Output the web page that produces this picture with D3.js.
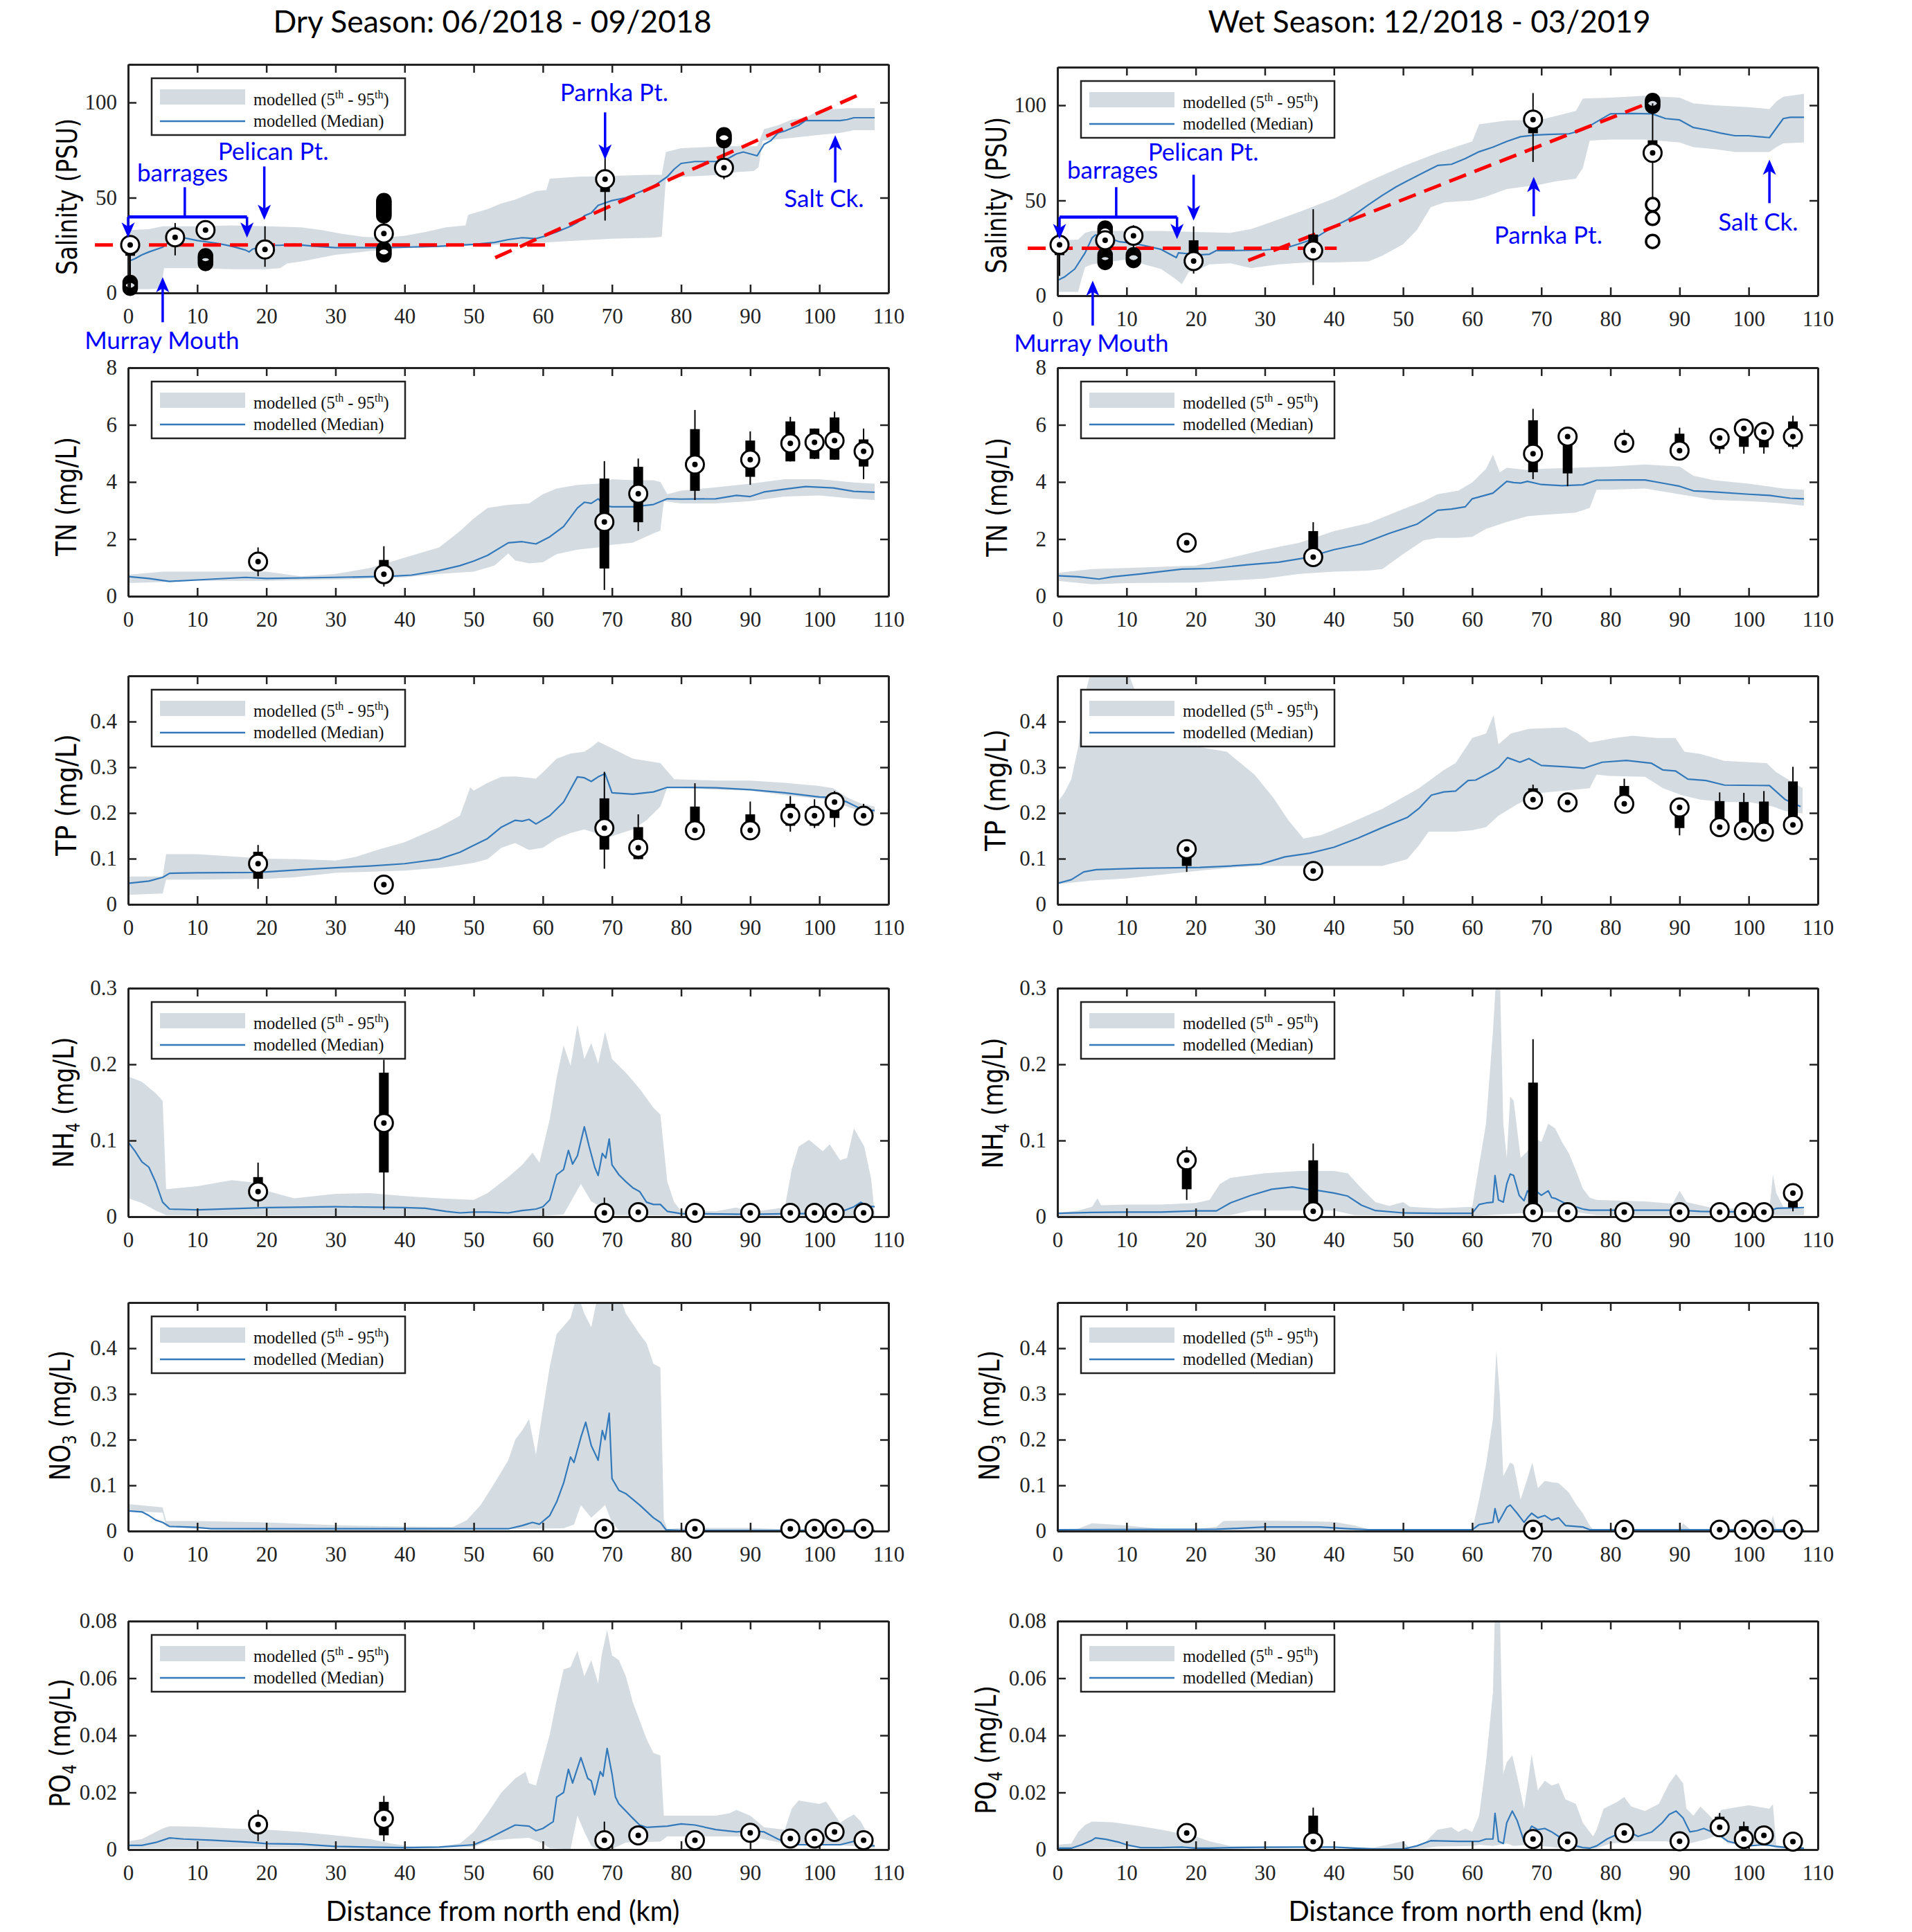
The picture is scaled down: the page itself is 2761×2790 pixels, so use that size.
<!DOCTYPE html>
<html><head><meta charset="utf-8">
<script src="https://cdn.jsdelivr.net/npm/d3@7"></script>
<style>body{margin:0;background:#fff}</style>
</head><body>
<svg id="fig" width="2761" height="2790"></svg>
<script>
// ---------------- DATA ----------------
const xTicks = [0,10,20,30,40,50,60,70,80,90,100,110];
const seasonTitles = ['Dry Season: 06/2018 - 09/2018', 'Wet Season: 12/2018 - 03/2019'];
const xLabel = 'Distance from north end (km)';
const legendLabels = ['modelled (5', 'th', ' - 95', 'th', ')', 'modelled (Median)'];

// Salinity (PSU)
const dSal_hi = [[0,33],[3,33.5],[5,35],[10,35],[15,35.5],[20,35],[25,34.5],[28,33],[31,31],[34,29.5],[37,29],[40,30],[43,32],[46,34.5],[48.8,35.5],[49.2,41],[52,44],[54,47],[56,49],[58,52],[59,53.5],[60.5,54],[61,60],[65,61],[70,61.5],[75,62],[77.2,62],[77.8,74],[80,76],[86,77],[91,77],[92,86],[94,88],[96,91],[98,92],[100,96],[104,97],[108,97]];
const dSal_lo = [[0,2],[3,2],[4.8,2.5],[5.2,13],[10,13],[15,12.5],[20,12.5],[22,13],[23,15.5],[25,16.5],[30,20],[35,22],[40,23.5],[45,24],[50,25],[55,25.5],[60,26.5],[65,27.5],[70,28.5],[76,29],[77.2,29.5],[77.8,60],[80,61],[86,62],[88,63.5],[90.5,64],[91.2,66],[91.8,80],[95,81],[100,83],[103,84],[105,85.5],[108,85.5]];
const dSal_med = [[0,16.5],[1,18],[2,20],[3,21.5],[5,24],[6,27],[7,29.5],[8,29],[10,27.5],[13,26],[15,24.5],[17,22.5],[17.5,21.5],[18,23],[20,25],[22,25],[24,25.5],[27,24.5],[30,23.8],[35,23.8],[40,24],[45,24.5],[50,25.5],[53,26.5],[55,28],[57,29],[59,28.5],[60,29.5],[62,32],[64,35],[65,37],[66,40.5],[67,42],[68,46],[70,48.5],[72,50],[74,53],[76,56],[78,61],[79,65],[80,68],[82,69],[86,69],[87,71],[88,73],[89,74],[90,73],[91,72],[92,78],[93,80],[94,84],[95,85],[97,88],[98,90.5],[100,90.5],[103,90.5],[104,91],[105,92],[108,92]];
const dSal_obs = [
  {x:0.3, lo:0.5, q1:19.5, q3:21.5, hi:25, med:25.2, out:[2.5,3.5,4.5,5.5]},
  {x:6.8, lo:19.7, hi:36.7, med:29.2},
  {x:11.2, lo:30, hi:36.5, med:33, out:[15.5,16.5,17.5,18.5,19.5]},
  {x:19.8, lo:13.7, q1:25.8, q3:27.6, hi:35, med:22.8},
  {x:37, lo:25, hi:37, med:31.2, out:[20,21,22,23,40.5,41.5,42.5,43.5,44.5,45.5,46.5,47.5,48.5]},
  {x:69, lo:38, q1:53, q3:55.5, hi:71.8, med:59.7},
  {x:86.2, lo:59.7, hi:78, med:65.7, out:[80,81,82,83]}
];
const dSal_red = [[[-4.8,25.2],[60.7,25.2]], [[53.1,18.5],[105.8,104.2]]];

const wSal_hi = [[0,29],[3,29.5],[4,33],[5,34],[10,34],[15,34],[20,33.5],[25,33],[28,35],[30,37.5],[35,44],[40,51],[45,60],[50,68],[55,75],[60,81],[61,90],[65,92],[70,92.5],[75,97],[76,103.5],[80,104],[85,105],[90,104],[92,101],[95,100],[100,99],[103,98],[104,102],[105,104.5],[108,106]];
const wSal_lo = [[0,2],[3,2],[3.5,9],[4,15],[5,16.5],[10,19],[15,14],[17,9],[18,6],[19,12.5],[20,13],[22,16.5],[25,17],[28,14.5],[32,16.5],[36,17.5],[40,17.5],[45,18],[47,21],[50,27],[52,34.5],[54,46.5],[56,49],[60,50],[62,52],[65,56],[70,58.5],[72,60],[75,61.5],[76,67],[77,81.5],[80,82],[85,82],[90,80.5],[92,78],[95,77],[98,75.5],[103,75.5],[104,78],[105,80],[108,80.5]];
const wSal_med = [[0,8],[1,9.8],[2.5,14],[4,22.5],[5,30.3],[5.5,31.9],[7,31],[8,29.5],[9,28.3],[11,27.5],[13,26],[15,24.3],[17.2,20],[17.5,22.5],[19,22],[20,21.3],[22,21.8],[23,23.7],[25,23.7],[30,24],[33,25],[35,27.3],[37,29.7],[40,36.4],[42,40],[45,47.8],[47,52.7],[49,57.2],[51,61],[53,64.7],[55,68.4],[57,69],[59,72],[61,75.6],[63,78],[65,81],[67,83.5],[69,84.3],[71,84.7],[74,85],[76,87],[78,91.3],[80,95.5],[83,95.7],[86,95.5],[88,93],[90,92.3],[92,88.3],[94,87],[96,85.3],[98,84],[100,84],[103,83],[105,93],[106,93.7],[108,93.7]];
const wSal_obs = [
  {x:0.3, lo:10.4, q1:21.3, q3:23.1, hi:27, med:26.7},
  {x:6.9, lo:24, hi:33, med:29.1, out:[32.5,33.5,34.5,35.5,17.5,18.5,19.5,20.5,21.5]},
  {x:11, lo:25, hi:37, med:31.5, out:[18.5,19.5,20.5,21.5]},
  {x:19.7, lo:11.6, q1:21.9, q3:29.1, hi:36.4, med:18.2},
  {x:37, lo:5.6, q1:27.3, q3:32.1, hi:45.4, med:23.7},
  {x:68.8, lo:70.2, q1:85.3, q3:88.3, hi:106.4, med:92.5},
  {x:86.1, lo:51.4, q1:71, q3:81.6, hi:101, med:75, out:[99.5,100.5,101.5,102.5,28.5,40.6,47.8]}
];
const wSal_red = [[[-4.3,24.9],[40.4,24.9]], [[27.6,18.5],[85.4,101]]];

// annotations (km, PSU)
const dSal_text = [{x:1.3,y:58.4,t:'barrages'},{x:13.0,y:70,t:'Pelican Pt.'},{x:62.5,y:100.6,t:'Parnka Pt.'},{x:94.9,y:45,t:'Salt Ck.'},{x:-6.3,y:-29.5,t:'Murray Mouth'}];
const dSal_arrows = [{x:19.7,from:66.4,to:38.4},{x:69,from:94.8,to:70},{x:102.3,from:58,to:82.8},{x:5,from:-15.4,to:8.3}];
const dSal_bracket = {x1:0, x2:17.2, y:39.9, stem:8.2, top:55.5, tip:29};
const wSal_text = [{x:1.4,y:61.3,t:'barrages'},{x:13.1,y:70.8,t:'Pelican Pt.'},{x:63.2,y:27.2,t:'Parnka Pt.'},{x:95.6,y:34.1,t:'Salt Ck.'},{x:-6.3,y:-29.5,t:'Murray Mouth'}];
const wSal_arrows = [{x:19.7,from:63.5,to:39.5},{x:68.9,from:41.7,to:62.4},{x:103,from:48.6,to:71.5},{x:5.1,from:-15.7,to:7.9}];
const wSal_bracket = {x1:0.3, x2:17.3, y:41.3, stem:8.5, top:57, tip:29.7};

// TN (mg/L)
const dTN_hi = [[0,0.75],[5,0.86],[10,0.86],[20,0.86],[25,0.7],[30,0.78],[35,0.99],[40,1.35],[45,1.71],[48,2.28],[50,2.72],[52,3.09],[55,3.2],[58,3.25],[60,3.57],[62,3.77],[65,3.9],[68,3.94],[70,4.1],[73,4.06],[76,4.06],[77,4.0],[78,3.57],[80,3.7],[85,3.81],[90,3.94],[95,4.1],[100,4.1],[105,3.98],[108,3.94]];
const dTN_lo = [[0,0.46],[5,0.5],[10,0.54],[20,0.54],[30,0.58],[40,0.66],[45,0.78],[50,0.86],[53,1.07],[55,1.5],[56,1.25],[58,1.15],[60,1.19],[62,1.47],[65,1.63],[68,1.71],[70,1.8],[73,1.87],[76,2.2],[77,2.3],[77.5,3.33],[80,3.25],[85,3.25],[90,3.33],[95,3.49],[100,3.53],[105,3.41],[108,3.37]];
const dTN_med = [[0,0.69],[3,0.62],[6,0.52],[10,0.57],[17,0.66],[20,0.62],[30,0.66],[38,0.7],[41,0.74],[45,0.9],[48,1.07],[50,1.23],[52,1.43],[55,1.87],[57,1.91],[59,1.83],[61,2.08],[63,2.44],[65,3.09],[66,3.29],[67,3.25],[68,3.41],[69,3.17],[70,3.13],[73,3.13],[76,3.21],[78,3.41],[80,3.4],[85,3.41],[88,3.53],[90,3.49],[92,3.65],[95,3.75],[98,3.84],[102,3.79],[105,3.67],[108,3.64]];
const dTN_obs = [
  {x:18.8, lo:0.70, hi:1.71, med:1.21},
  {x:37, lo:0.34, q1:0.86, q3:1.27, hi:1.75, med:0.77},
  {x:68.9, lo:0.22, q1:0.97, q3:4.12, hi:4.73, med:2.6},
  {x:73.8, lo:2.28, q1:2.59, q3:4.53, hi:4.82, med:3.59},
  {x:82, lo:3.37, q1:3.69, q3:5.85, hi:6.52, med:4.61},
  {x:90, lo:3.9, q1:4.18, q3:5.45, hi:5.77, med:4.78},
  {x:95.8, lo:4.72, q1:4.72, q3:6.12, hi:6.28, med:5.35},
  {x:99.3, lo:4.8, q1:4.81, q3:5.87, hi:5.87, med:5.39},
  {x:102.2, lo:4.78, q1:4.78, q3:6.26, hi:6.46, med:5.45},
  {x:106.4, lo:4.1, q1:4.54, q3:5.49, hi:5.87, med:5.07}
];
const wTN_hi = [[0,0.82],[5,0.95],[10,0.99],[20,1.07],[23,1.23],[30,1.63],[35,1.87],[40,2.28],[45,2.56],[50,3.05],[53,3.33],[55,3.57],[58,3.7],[60,3.98],[62,4.46],[63,4.95],[64,4.34],[65,4.5],[68,4.42],[70,4.46],[75,4.5],[80,4.54],[85,4.61],[90,4.54],[92,4.22],[95,4.06],[100,3.94],[105,3.77],[108,3.73]];
const wTN_lo = [[0,0.54],[5,0.42],[10,0.46],[20,0.48],[30,0.62],[35,0.78],[40,0.86],[45,0.9],[47,0.95],[50,1.47],[53,1.96],[55,2.04],[58,2.04],[60,2.08],[62,2.36],[65,2.6],[68,2.8],[70,2.84],[75,2.93],[77,3.09],[78,3.73],[80,3.73],[85,3.77],[90,3.57],[95,3.37],[100,3.33],[105,3.25],[108,3.17]];
const wTN_med = [[0,0.72],[3,0.68],[6,0.6],[8,0.68],[12,0.78],[18,0.95],[22,0.97],[28,1.11],[32,1.19],[36,1.35],[40,1.63],[44,1.83],[48,2.2],[52,2.52],[55,3.01],[57,3.05],[59,3.13],[60,3.41],[63,3.61],[65,4.02],[66,3.98],[67,3.96],[68,4.02],[70,3.91],[73,3.87],[76,3.9],[78,4.06],[82,4.07],[85,4.07],[88,3.94],[90,3.85],[92,3.69],[95,3.65],[100,3.57],[103,3.53],[106,3.43],[108,3.41]];
const wTN_obs = [
  {x:18.7, med:1.87},
  {x:37, q1:1.47, q3:2.28, hi:2.59, med:1.37},
  {x:68.8, lo:4.1, q1:4.34, q3:6.16, hi:6.56, med:4.99},
  {x:73.8, lo:3.85, q1:4.3, q3:5.51, hi:5.9, med:5.59},
  {x:82, lo:5.1, q1:5.37, q3:5.71, hi:5.83, med:5.37},
  {x:90, lo:4.9, q1:5.1, q3:5.69, hi:5.9, med:5.1},
  {x:95.8, lo:4.99, q1:5.15, q3:5.63, hi:5.65, med:5.54},
  {x:99.3, lo:4.99, q1:5.23, q3:6.0, hi:6.1, med:5.87},
  {x:102.2, lo:4.99, q1:5.21, q3:5.96, hi:5.96, med:5.75},
  {x:106.4, lo:5.15, q1:5.23, q3:6.12, hi:6.32, med:5.59}
];

// TP (mg/L)
const dTP_hi = [[0,0.061],[5,0.061],[5.5,0.11],[10,0.11],[20,0.10],[25,0.099],[30,0.096],[33,0.104],[36,0.119],[40,0.136],[45,0.169],[48,0.194],[49.5,0.256],[50,0.249],[52,0.266],[54,0.279],[56,0.28],[58,0.277],[59,0.275],[60,0.289],[62,0.319],[64,0.33],[66,0.334],[67,0.344],[68,0.356],[69,0.349],[71,0.334],[73,0.319],[75,0.314],[77,0.309],[79,0.274],[85,0.271],[90,0.271],[95,0.266],[100,0.259],[102,0.254],[104,0.234],[106,0.221],[108,0.214]];
const dTP_lo = [[0,0.021],[5,0.024],[5.5,0.054],[10,0.054],[20,0.056],[24,0.059],[30,0.069],[40,0.074],[45,0.08],[48,0.086],[50,0.091],[52,0.099],[54,0.124],[56,0.134],[58,0.119],[60,0.124],[62,0.144],[64,0.156],[66,0.164],[68,0.154],[69,0.144],[71,0.154],[73,0.164],[75,0.184],[77,0.214],[78,0.256],[85,0.251],[90,0.249],[95,0.239],[100,0.231],[102,0.229],[104,0.214],[106,0.204],[108,0.199]];
const dTP_med = [[0,0.046],[3,0.051],[5,0.059],[6,0.068],[10,0.069],[18,0.07],[20,0.071],[25,0.076],[30,0.08],[35,0.084],[40,0.089],[45,0.099],[48,0.114],[50,0.129],[52,0.144],[54,0.169],[56,0.184],[57,0.182],[58,0.186],[59,0.176],[61,0.194],[63,0.224],[65,0.279],[66,0.277],[67,0.269],[68,0.279],[69,0.286],[70,0.244],[73,0.241],[76,0.246],[78,0.256],[82,0.256],[85,0.255],[90,0.251],[95,0.244],[100,0.235],[102,0.234],[104,0.224],[106,0.209],[108,0.205]];
const dTP_obs = [
  {x:18.8, lo:0.034, q1:0.056, q3:0.115, hi:0.13, med:0.089},
  {x:37, med:0.043},
  {x:68.9, lo:0.078, q1:0.12, q3:0.232, hi:0.29, med:0.167},
  {x:73.8, lo:0.099, q1:0.099, q3:0.169, hi:0.197, med:0.124},
  {x:82, lo:0.162, q1:0.162, q3:0.214, hi:0.265, med:0.162},
  {x:90, lo:0.162, q1:0.162, q3:0.197, hi:0.225, med:0.162},
  {x:95.8, lo:0.159, q1:0.172, q3:0.22, hi:0.237, med:0.194},
  {x:99.3, lo:0.167, q1:0.172, q3:0.214, hi:0.23, med:0.194},
  {x:102.2, lo:0.169, q1:0.189, q3:0.242, hi:0.248, med:0.224},
  {x:106.4, lo:0.189, q1:0.194, q3:0.2, hi:0.22, med:0.194}
];
const wTP_hi = [[0,0.224],[1,0.244],[2,0.274],[3,0.344],[4,0.459],[5,0.52],[10,0.52],[10.9,0.479],[12.6,0.424],[16,0.38],[20.6,0.344],[24.5,0.334],[28.5,0.284],[31.2,0.234],[33.4,0.184],[35.6,0.144],[38.2,0.152],[41.7,0.174],[47,0.209],[52.3,0.254],[55.9,0.294],[57.6,0.309],[60,0.364],[62,0.374],[63.1,0.414],[63.8,0.35],[65.6,0.374],[68.2,0.384],[73.5,0.387],[75.3,0.374],[77,0.354],[80.6,0.364],[83.2,0.369],[86.8,0.364],[89.4,0.364],[90.7,0.334],[93,0.329],[96.5,0.314],[102.6,0.309],[104,0.289],[107.8,0.254]];
const wTP_lo = [[0,0.044],[4.7,0.052],[10,0.057],[20.6,0.074],[25,0.08],[29.4,0.084],[47,0.084],[50.6,0.099],[52.3,0.129],[53.7,0.159],[57.6,0.159],[60,0.162],[62,0.169],[63.8,0.194],[66.5,0.219],[70,0.244],[73.5,0.249],[77,0.254],[78,0.284],[79.7,0.281],[85,0.279],[87.6,0.254],[90.3,0.239],[93,0.229],[96.5,0.224],[100,0.224],[103.5,0.214],[105.3,0.204],[107.8,0.199]];
const wTP_med = [[0,0.046],[2,0.054],[3.8,0.071],[5.6,0.076],[11.7,0.079],[20.6,0.081],[25,0.084],[29.4,0.088],[32.9,0.104],[36.5,0.112],[40,0.125],[43.5,0.145],[47,0.168],[50.6,0.19],[52.3,0.21],[54.1,0.239],[55.9,0.246],[57.6,0.248],[59.4,0.271],[60.5,0.272],[62.9,0.291],[63.8,0.299],[65.1,0.321],[66.9,0.311],[68.2,0.319],[70,0.304],[73.5,0.301],[76.2,0.298],[78.8,0.311],[82.3,0.315],[85.9,0.309],[87.6,0.294],[89.4,0.292],[91.2,0.274],[93.8,0.271],[96.5,0.261],[103,0.26],[105.3,0.229],[107.5,0.214]];
const wTP_obs = [
  {x:18.7, lo:0.071, q1:0.084, q3:0.106, hi:0.14, med:0.121},
  {x:37, med:0.073},
  {x:68.8, q1:0.229, q3:0.254, hi:0.262, med:0.229},
  {x:73.8, med:0.223},
  {x:82, q1:0.22, q3:0.259, hi:0.275, med:0.22},
  {x:90, lo:0.151, q1:0.167, q3:0.212, med:0.212},
  {x:95.8, lo:0.15, q1:0.169, q3:0.226, hi:0.245, med:0.169},
  {x:99.3, lo:0.15, q1:0.162, q3:0.224, hi:0.244, med:0.162},
  {x:102.2, lo:0.145, q1:0.159, q3:0.225, hi:0.248, med:0.159},
  {x:106.4, lo:0.16, q1:0.174, q3:0.269, hi:0.301, med:0.174}
];

// NH4 (mg/L)
const dNH4_hi = [[0,0.184],[2,0.177],[4,0.162],[5,0.152],[5.5,0.036],[10,0.04],[15,0.048],[18,0.045],[20,0.034],[24,0.024],[30,0.03],[35,0.031],[40,0.027],[45,0.024],[50,0.022],[52,0.031],[55,0.052],[57,0.068],[58.5,0.084],[59.5,0.071],[61,0.128],[62,0.183],[63,0.225],[64,0.198],[65,0.252],[66,0.207],[67,0.228],[68,0.201],[69,0.243],[70,0.207],[72,0.189],[74,0.168],[76,0.143],[77,0.134],[78,0.046],[79,0.019],[80,0.007],[85,0.007],[88,0.012],[90,0.006],[95,0.012],[96,0.062],[97,0.092],[98.5,0.101],[100.5,0.086],[101.5,0.095],[103,0.074],[104,0.077],[105,0.116],[106.5,0.092],[107.5,0.049],[108,0.004]];
const dNH4_lo = [[0,0.024],[2,0.018],[4,0.008],[5.5,0.002],[60,0.001],[63,0.003],[65.5,0.043],[67,0.02],[69,0.01],[70,0.002],[108,0.001]];
const dNH4_med = [[0,0.098],[1,0.086],[2,0.072],[3,0.065],[4,0.045],[5,0.019],[6,0.01],[10,0.009],[20,0.012],[30,0.013],[40,0.012],[43,0.011],[46,0.007],[48,0.005],[50,0.006],[52,0.006],[55,0.005],[57,0.008],[59,0.01],[60,0.013],[61,0.022],[62,0.055],[63,0.062],[63.7,0.087],[64.3,0.069],[65,0.08],[66,0.118],[66.7,0.092],[67.5,0.065],[68,0.054],[68.6,0.083],[69.1,0.077],[69.6,0.102],[70,0.068],[71,0.055],[72,0.046],[73,0.038],[74,0.033],[75,0.019],[76,0.016],[77,0.016],[78,0.007],[80,0.004],[90,0.003],[96,0.004],[100,0.004],[103,0.006],[105,0.013],[106,0.019],[107,0.014],[108,0.013]];
const dNH4_obs = [
  {x:18.8, lo:0.013, q1:0.042, q3:0.052, hi:0.071, med:0.033},
  {x:37, lo:0.009, q1:0.058, q3:0.189, hi:0.206, med:0.123},
  {x:68.9, lo:0.005, hi:0.025, med:0.005},
  {x:73.8, med:0.006},{x:82, med:0.005},{x:90, med:0.005},{x:95.8, med:0.005},{x:99.3, med:0.005},{x:102.2, med:0.005},{x:106.4, med:0.005}
];
const wNH4_hi = [[0,0.005],[3,0.008],[5,0.013],[5.8,0.024],[6.3,0.015],[10,0.016],[15,0.016],[20,0.018],[22,0.022],[23.5,0.043],[25,0.051],[30,0.057],[35,0.06],[40,0.06],[42,0.057],[44,0.037],[46,0.019],[48,0.014],[50,0.019],[51,0.013],[55,0.011],[60,0.013],[61,0.068],[62,0.122],[63,0.243],[63.5,0.32],[64,0.32],[64.5,0.122],[65,0.077],[65.5,0.158],[66,0.152],[67,0.077],[68,0.086],[69,0.104],[70,0.098],[71,0.122],[72,0.116],[73,0.098],[74,0.083],[75,0.061],[76,0.037],[77,0.025],[78,0.022],[85,0.02],[89,0.017],[90,0.034],[91,0.019],[95,0.011],[103,0.01],[103.5,0.055],[104,0.031],[105,0.013],[108,0.01]];
const wNH4_lo = [[0,0.001],[25,0.002],[28,0.008],[40,0.008],[43,0.002],[60,0.001],[70,0.006],[75,0.006],[78,0.002],[108,0.002]];
const wNH4_med = [[0,0.0045],[5,0.0055],[10,0.006],[15,0.006],[20,0.0076],[23,0.0076],[25,0.018],[28,0.028],[31,0.036],[34,0.039],[36,0.036],[38,0.034],[40,0.031],[42,0.027],[44,0.015],[46,0.008],[50,0.005],[55,0.0045],[60,0.0045],[61,0.016],[62,0.018],[63,0.019],[63.3,0.054],[63.8,0.022],[64.5,0.019],[65,0.043],[65.5,0.056],[66,0.054],[66.8,0.028],[67.5,0.021],[68,0.034],[68.6,0.031],[69.2,0.034],[70,0.028],[71,0.034],[71.5,0.025],[72,0.024],[74,0.015],[75,0.013],[76,0.01],[77,0.0085],[80,0.0085],[85,0.0085],[90,0.0085],[93,0.007],[96,0.0064],[100,0.0064],[103,0.007],[104,0.011],[108,0.012]];
const wNH4_obs = [
  {x:18.7, lo:0.022, q1:0.036, q3:0.087, hi:0.092, med:0.074},
  {x:37, q1:0.007, q3:0.074, hi:0.096, med:0.007},
  {x:68.8, q1:0.006, q3:0.176, hi:0.233, med:0.006},
  {x:73.8, med:0.006},{x:82, med:0.006},{x:90, med:0.006},{x:95.8, med:0.006},{x:99.3, med:0.006},{x:102.2, med:0.006},
  {x:106.4, lo:0.007, q1:0.012, q3:0.019, hi:0.02, med:0.031}
];

// NO3 (mg/L)
const dNO3_hi = [[0,0.059],[5,0.052],[5.5,0.022],[10,0.022],[20,0.019],[30,0.013],[40,0.01],[47,0.009],[49,0.024],[51,0.057],[53,0.105],[55,0.155],[56,0.2],[57,0.22],[58,0.245],[59,0.167],[60,0.265],[61,0.36],[62,0.431],[64,0.466],[65,0.52],[66,0.476],[67,0.446],[68,0.52],[71,0.52],[72,0.476],[74,0.431],[75,0.411],[76,0.366],[77,0.358],[77.5,0.025],[78,0.004],[80,0.007],[90,0.007],[95,0.004],[108,0.004]];
const dNO3_lo = [[0,0.044],[5,0.04],[5.5,0.01],[10,0.005],[20,0.002],[40,0.001],[63,0.006],[64.5,0.014],[65.5,0.057],[67,0.029],[69,0.057],[70,0.019],[71,0.001],[108,0.0]];
const dNO3_med = [[0,0.044],[2,0.042],[3,0.034],[4,0.024],[5,0.019],[6,0.01],[10,0.008],[12,0.005],[20,0.005],[40,0.005],[50,0.005],[55,0.005],[57,0.012],[58.5,0.019],[59.5,0.015],[61,0.034],[62,0.064],[63,0.105],[64,0.162],[64.5,0.15],[65.5,0.205],[66.2,0.238],[67,0.187],[68,0.155],[68.6,0.22],[69,0.2],[69.6,0.258],[70,0.115],[71,0.089],[72,0.082],[74,0.057],[76,0.029],[77,0.019],[77.8,0.003],[80,0.0015],[108,0.0015]];
const dNO3_obs = [{x:68.9, med:0.005},{x:82, med:0.005},{x:95.8, med:0.005},{x:99.3, med:0.005},{x:102.2, med:0.005},{x:106.4, med:0.005}];
const wNO3_hi = [[0,0.0015],[3,0.005],[5,0.017],[7,0.015],[10,0.012],[15,0.005],[20,0.004],[23,0.009],[24,0.022],[28,0.023],[35,0.022],[40,0.02],[43,0.012],[45,0.004],[50,0.0025],[60,0.0015],[61,0.069],[62,0.145],[63,0.245],[63.5,0.396],[64,0.295],[64.5,0.12],[65.5,0.15],[66,0.145],[67,0.069],[68,0.115],[68.7,0.15],[69.5,0.094],[70.5,0.11],[71.5,0.107],[72.5,0.105],[74,0.084],[75,0.059],[76,0.039],[77,0.012],[77.5,0.003],[90,0.0025],[90.5,0.017],[91.5,0.004],[103,0.003],[103.5,0.034],[104,0.004],[108,0.0025]];
const wNO3_lo = [[0,0],[108,0]];
const wNO3_med = [[0,0.003],[23,0.004],[26,0.006],[30,0.009],[38,0.009],[42,0.005],[45,0.003],[60,0.003],[61,0.014],[63,0.019],[63.3,0.049],[63.8,0.019],[65,0.052],[65.5,0.057],[66.5,0.039],[67.5,0.019],[68,0.029],[68.6,0.039],[69.5,0.029],[70.5,0.034],[71.5,0.024],[72.5,0.029],[73.5,0.012],[76,0.009],[77,0.003],[108,0.003]];
const wNO3_obs = [{x:68.8, med:0.003},{x:82, med:0.003},{x:95.8, med:0.003},{x:99.3, med:0.003},{x:102.2, med:0.003},{x:106.4, med:0.003}];

// PO4 (mg/L)
const dPO4_hi = [[0,0.0029],[2,0.0037],[5,0.0074],[6,0.0082],[10,0.008],[15,0.0074],[20,0.007],[25,0.0062],[30,0.005],[35,0.0037],[38,0.0021],[41,0.0011],[45,0.0011],[48,0.0021],[50,0.0062],[52,0.0127],[54,0.02],[56,0.0249],[57.5,0.0273],[58,0.0233],[59,0.0224],[60,0.0314],[61,0.0403],[62,0.0525],[63,0.0631],[64,0.0639],[65,0.0696],[66,0.0607],[67,0.0663],[68,0.0582],[68.5,0.068],[69.3,0.077],[70,0.068],[71,0.0663],[72,0.0607],[73,0.0517],[74,0.0452],[75,0.0387],[76,0.0338],[77,0.033],[77.5,0.0119],[80,0.0119],[85,0.0119],[87,0.0127],[88,0.0139],[90,0.0119],[92,0.0078],[95,0.007],[96,0.0143],[97,0.0172],[98,0.0168],[100,0.016],[101,0.0168],[103,0.0094],[104,0.011],[105,0.0123],[106,0.0098],[107,0.0054],[108,0.0013]];
const dPO4_lo = [[0,0.0005],[20,0.0007],[40,0.0003],[50,0.0009],[52,0.003],[55,0.0037],[58,0.0041],[60,0.0021],[61,0.0005],[64,0.0001],[65,0.0119],[66,0.0062],[67,0.0013],[68,0.0001],[70,0.0002],[72,0.0025],[77,0.0028],[78,0.0046],[90,0.0046],[95,0.0021],[100,0.0017],[105,0.0013],[108,0.0006]];
const dPO4_med = [[0,0.0015],[2,0.0015],[4,0.0025],[6,0.0041],[8,0.0037],[12,0.0033],[18,0.0025],[20,0.0021],[25,0.0019],[30,0.0011],[35,0.0009],[40,0.0007],[45,0.0009],[50,0.0017],[52,0.0037],[54,0.0062],[56,0.0086],[58,0.0082],[59,0.0066],[60,0.0074],[61,0.009],[61.5,0.0098],[62,0.0184],[63,0.02],[63.7,0.0281],[64.3,0.0233],[65.5,0.0322],[66.5,0.0249],[67,0.0241],[67.5,0.0192],[68.3,0.0273],[68.7,0.0257],[69.3,0.0354],[70,0.0265],[70.5,0.0184],[71,0.016],[72,0.0135],[73,0.011],[74,0.0086],[75,0.0078],[78,0.0082],[80,0.009],[82,0.0086],[85,0.007],[88,0.0062],[90,0.0066],[92,0.0062],[94,0.0037],[96,0.0017],[100,0.0017],[103,0.0017],[105,0.0029],[106,0.0029],[107,0.0015],[108,0.0013]];
const dPO4_obs = [
  {x:18.8, lo:0.0029, hi:0.0139, med:0.0088},
  {x:37, lo:0.0029, q1:0.005, q3:0.0167, hi:0.0188, med:0.0108},
  {x:68.9, q1:0.0033, q3:0.006, hi:0.0098, med:0.0033},
  {x:73.8, med:0.005},{x:82, med:0.0033},{x:90, med:0.0059},{x:95.8, med:0.0039},{x:99.3, med:0.0039},{x:102.2, med:0.0062},{x:106.4, med:0.0033}
];
const wPO4_hi = [[0,0.0017],[2,0.0021],[3,0.0062],[4,0.0086],[5,0.0098],[8,0.0096],[12,0.0082],[15,0.007],[20,0.0046],[22,0.0029],[25,0.0013],[40,0.0009],[45,0.0003],[50,0.0029],[51,0.0003],[53,0.0021],[55,0.007],[57,0.0078],[58,0.0062],[59,0.0074],[60,0.0062],[61,0.0119],[62,0.0306],[63,0.055],[63.3,0.085],[64,0.085],[64.5,0.0265],[65,0.0306],[65.8,0.033],[66.5,0.0257],[67.5,0.0143],[68,0.0224],[68.6,0.0334],[69.5,0.0208],[70.5,0.0241],[71.5,0.0224],[72.5,0.0233],[73.5,0.0176],[75,0.016],[76,0.0094],[77,0.0062],[77.5,0.0046],[78,0.007],[79,0.0143],[81,0.0167],[82,0.0184],[83,0.0151],[85,0.0135],[87,0.016],[88.5,0.0232],[89.5,0.0265],[90.5,0.0232],[91,0.0143],[92,0.0119],[93,0.0151],[94,0.0127],[95,0.0102],[96,0.0139],[98,0.0147],[100,0.0155],[102,0.0147],[103,0.0143],[103.5,0.0159],[104,0.0013],[106,0.0009],[108,0.0005]];
const wPO4_lo = [[0,0.0003],[5,0.0005],[10,0.0007],[20,0.0005],[25,0.0003],[35,0.0007],[40,0.0007],[45,0.0003],[50,0.0001],[53,0.0005],[55,0.0011],[60,0.0013],[61,0.0017],[63,0.0013],[65,0.0021],[66,0.0013],[68,0.0017],[70,0.0013],[73,0.0005],[78,0.0005],[80,0.0021],[83,0.0029],[88,0.0029],[90.5,0.0017],[92,0.0025],[94,0.0037],[95,0.0046],[96,0.0046],[97,0.0021],[100,0.0017],[102,0.0021],[104,0.0005],[108,0.0001]];
const wPO4_med = [[0,0.0005],[2,0.0005],[3.5,0.0017],[5,0.0033],[5.5,0.0041],[7,0.0036],[9,0.0025],[10,0.0017],[12,0.0007],[15,0.0007],[18,0.0009],[20,0.0005],[22,0.0005],[25,0.0007],[30,0.0008],[35,0.0009],[40,0.0009],[43,0.0005],[46,0.0002],[50,0.0002],[52,0.0013],[54,0.0031],[58,0.0029],[61,0.0029],[62,0.0037],[63,0.0037],[63.3,0.0127],[63.8,0.0029],[64.5,0.0021],[65,0.0094],[65.8,0.0135],[66.5,0.0102],[67.5,0.0029],[68,0.0054],[68.6,0.0082],[69.5,0.007],[70.5,0.0074],[71.5,0.0062],[72.5,0.0046],[73.5,0.0021],[75,0.0013],[76,0.0007],[77,0.0005],[78,0.0013],[79.5,0.0037],[81,0.0054],[83,0.0058],[84,0.0046],[86,0.0062],[87.5,0.0094],[88.5,0.0123],[89.5,0.0135],[90.5,0.0111],[91.5,0.0062],[92.5,0.0066],[93.5,0.0074],[95,0.0058],[96,0.0046],[97,0.0029],[99,0.0017],[100,0.0013],[102,0.0017],[103,0.0015],[104,0.0011],[105.5,0.0007],[108,0.0005]];
const wPO4_obs = [
  {x:18.7, med:0.0058},
  {x:37, q1:0.0029, q3:0.0119, hi:0.0147, med:0.0028},
  {x:68.8, med:0.0037},{x:73.8, med:0.0028},{x:82, med:0.0058},{x:90, med:0.0029},
  {x:95.8, q1:0.0078, q3:0.0115, hi:0.0128, med:0.0078},
  {x:99.3, q1:0.0037, q3:0.0082, hi:0.0098, med:0.0037},
  {x:102.2, med:0.005},{x:106.4, med:0.0028}
];

// y-axis setup per variable
const salTicks = [0,50,100], tnTicks = [0,2,4,6,8], tpTicks = [0,0.1,0.2,0.3,0.4],
      nh4Ticks = [0,0.1,0.2,0.3], no3Ticks = [0,0.1,0.2,0.3,0.4], po4Ticks = [0,0.02,0.04,0.06,0.08];
const yMaxes = [120, 8, 0.5, 0.3, 0.5, 0.08];

// ---------------- LAYOUT / STYLE ----------------
const W = 1098, H = 330;
const colLeft = [185, 1527];
const rowTop = [[93,97],[531,531],[976,976],[1427,1427],[1881,1881],[2341,2341]];
const BAND = '#d5dce1', MED = '#3279bb', BLUE = '#0000ff';
const serif = "'Liberation Serif','Times New Roman',serif";
const sans = "Lato,'Open Sans',sans-serif";
const labFont = "'DejaVu Sans',Verdana,sans-serif";
const ylabPos = [ // [baselineX offset from column, centerY, length]
  [[111,284,226],[111,282,226]],
  [[110,717,172],[112,718,172]],
  [[110,1148,176],[110,1141,176]],
  [[106,1592,189],[106,1593,189]],
  [[101,2044,188],[101,2044,188]],
  [[101,2517,186],[96,2527,186]]
];
const ylabParts = [
  [['Salinity (PSU)',0]], [['TN (mg/L)',0]], [['TP (mg/L)',0]],
  [['NH',0],['4',1],[' (mg/L)',0]], [['NO',0],['3',1],[' (mg/L)',0]], [['PO',0],['4',1],[' (mg/L)',0]]
];
const yTicksAll = [salTicks, tnTicks, tpTicks, nh4Ticks, no3Ticks, po4Ticks];
const dataAll = [
  [[dSal_hi,dSal_lo,dSal_med,dSal_obs],[wSal_hi,wSal_lo,wSal_med,wSal_obs]],
  [[dTN_hi,dTN_lo,dTN_med,dTN_obs],[wTN_hi,wTN_lo,wTN_med,wTN_obs]],
  [[dTP_hi,dTP_lo,dTP_med,dTP_obs],[wTP_hi,wTP_lo,wTP_med,wTP_obs]],
  [[dNH4_hi,dNH4_lo,dNH4_med,dNH4_obs],[wNH4_hi,wNH4_lo,wNH4_med,wNH4_obs]],
  [[dNO3_hi,dNO3_lo,dNO3_med,dNO3_obs],[wNO3_hi,wNO3_lo,wNO3_med,wNO3_obs]],
  [[dPO4_hi,dPO4_lo,dPO4_med,dPO4_obs],[wPO4_hi,wPO4_lo,wPO4_med,wPO4_obs]]
];
const salAnn = [
  {red:dSal_red, text:dSal_text, arrows:dSal_arrows, bracket:dSal_bracket},
  {red:wSal_red, text:wSal_text, arrows:wSal_arrows, bracket:wSal_bracket}
];

const svg = d3.select('#fig');
svg.append('rect').attr('width',2761).attr('height',2790).attr('fill','#fff');

// titles
[[711,47,633],[2064,47,639]].forEach((p,i)=>{
  svg.append('text').attr('x',p[0]).attr('y',p[1]).attr('text-anchor','middle')
    .attr('font-family',sans).attr('font-size',44).attr('fill','#000')
    .attr('textLength',p[2]).attr('lengthAdjust','spacingAndGlyphs').text(seasonTitles[i]);
});
// x labels
[[726,2774],[2116,2774]].forEach(p=>{
  svg.append('text').attr('x',p[0]).attr('y',p[1]).attr('text-anchor','middle')
    .attr('font-family',sans).attr('font-size',40).attr('fill','#000')
    .attr('textLength',511).attr('lengthAdjust','spacingAndGlyphs').text(xLabel);
});

function arrowHead(g, x, y, dir) { // dir: +1 pointing down, -1 pointing up
  const L = 22, w = 9.5, n = 6;
  const p = [[x,y],[x-w,y-dir*L],[x,y-dir*(L-n)],[x+w,y-dir*L]];
  g.append('path').attr('d', d3.line()(p)+'Z').attr('fill',BLUE);
}

rowTop.forEach((tops, r)=>{
  [0,1].forEach(c=>{
    const left = colLeft[c], top = tops[c];
    const [hi, lo, med, obs] = dataAll[r][c];
    const x = d3.scaleLinear().domain([0,110]).range([0,W]);
    const y = d3.scaleLinear().domain([0,yMaxes[r]]).range([H,0]);
    const g = svg.append('g').attr('transform',`translate(${left},${top})`);
    const cid = `clip${r}_${c}`;
    g.append('clipPath').attr('id',cid).append('rect').attr('width',W).attr('height',H);
    const plot = g.append('g').attr('clip-path',`url(#${cid})`);
    // band
    const pts = hi.map(d=>[x(d[0]),y(d[1])]).concat(lo.slice().reverse().map(d=>[x(d[0]),y(d[1])]));
    plot.append('path').attr('d', d3.line()(pts)+'Z').attr('fill',BAND).attr('stroke','none');
    // axes
    const yt = yTicksAll[r];
    const fmt = d=>String(d);
    const axB = g.append('g').attr('transform',`translate(0,${H})`)
      .call(d3.axisBottom(x).tickValues(xTicks).tickSize(-12).tickSizeOuter(0).tickPadding(22).tickFormat(fmt));
    const axT = g.append('g').call(d3.axisTop(x).tickValues(xTicks).tickSize(-12).tickSizeOuter(0).tickFormat(''));
    const axL = g.append('g').call(d3.axisLeft(y).tickValues(yt).tickSize(-12).tickSizeOuter(0).tickPadding(16).tickFormat(fmt));
    const axR = g.append('g').attr('transform',`translate(${W},0)`)
      .call(d3.axisRight(y).tickValues(yt).tickSize(-12).tickSizeOuter(0).tickFormat(''));
    [axB,axT,axL,axR].forEach(a=>{
      a.attr('font-family',serif).attr('font-size',31);
      a.selectAll('.domain').attr('stroke','#222').attr('stroke-width',3);
      a.selectAll('.tick line').attr('stroke','#222').attr('stroke-width',2.5);
      a.selectAll('.tick text').attr('fill','#222').attr('font-family',serif);
    });
    // median line
    plot.append('path').attr('d', d3.line().x(d=>x(d[0])).y(d=>y(d[1]))(med))
      .attr('fill','none').attr('stroke',MED).attr('stroke-width',2.2).attr('stroke-linejoin','round');
    // salinity extras
    if (r===0) {
      const a = salAnn[c];
      a.red.forEach(seg=>{
        g.append('path').attr('d', d3.line().x(d=>x(d[0])).y(d=>y(d[1]))(seg))
          .attr('fill','none').attr('stroke','#ff0000').attr('stroke-width',5).attr('stroke-dasharray','26,13');
      });
    }
    // observations (box-whisker)
    obs.forEach(o=>{
      const cx = x(o.x);
      if (o.lo!=null || o.hi!=null) {
        const a = o.lo!=null ? o.lo : Math.min(o.q1!=null?o.q1:o.med, o.med);
        const b = o.hi!=null ? o.hi : Math.max(o.q3!=null?o.q3:o.med, o.med);
        g.append('line').attr('x1',cx).attr('x2',cx).attr('y1',y(a)).attr('y2',y(b)).attr('stroke','#000').attr('stroke-width',2);
      }
      if (o.q1!=null) {
        g.append('rect').attr('x',cx-7).attr('width',14).attr('y',y(o.q3))
          .attr('height',Math.max(3,y(o.q1)-y(o.q3))).attr('fill','#000');
      }
      (o.out||[]).forEach(v=>{
        g.append('circle').attr('cx',cx).attr('cy',y(v)).attr('r',9.5).attr('fill','none').attr('stroke','#000').attr('stroke-width',3.5);
      });
      g.append('circle').attr('cx',cx).attr('cy',y(o.med)).attr('r',13).attr('fill','#fff').attr('stroke','#000').attr('stroke-width',3);
      g.append('circle').attr('cx',cx).attr('cy',y(o.med)).attr('r',4).attr('fill','#000');
    });
    if (r===0) {
      const a = salAnn[c];
      a.text.forEach(t=>{
        g.append('text').attr('x',x(t.x)).attr('y',y(t.y)).attr('font-family',sans).attr('font-size',35)
          .attr('fill',BLUE).text(t.t);
      });
      a.arrows.forEach(ar=>{
        const dir = ar.to < ar.from ? 1 : -1;
        g.append('line').attr('x1',x(ar.x)).attr('x2',x(ar.x)).attr('y1',y(ar.from)).attr('y2',y(ar.to)+dir*(-12))
          .attr('stroke',BLUE).attr('stroke-width',3.5);
        arrowHead(g, x(ar.x), y(ar.to), dir);
      });
      const b = a.bracket;
      g.append('line').attr('x1',x(b.x1)).attr('x2',x(b.x2)).attr('y1',y(b.y)).attr('y2',y(b.y)).attr('stroke',BLUE).attr('stroke-width',4.5);
      g.append('line').attr('x1',x(b.stem)).attr('x2',x(b.stem)).attr('y1',y(b.y)).attr('y2',y(b.top)).attr('stroke',BLUE).attr('stroke-width',3.5);
      [b.x1,b.x2].forEach(xx=>{
        g.append('line').attr('x1',x(xx)).attr('x2',x(xx)).attr('y1',y(b.y)).attr('y2',y(b.tip)-12).attr('stroke',BLUE).attr('stroke-width',3.5);
        arrowHead(g, x(xx), y(b.tip), 1);
      });
    }
    // legend
    const lg = g.append('g').attr('transform','translate(34,20)');
    lg.append('rect').attr('width',366).attr('height',82).attr('fill','#fff').attr('stroke','#222').attr('stroke-width',2.5);
    lg.append('rect').attr('x',12).attr('y',16).attr('width',123).attr('height',22).attr('fill',BAND);
    lg.append('line').attr('x1',12).attr('x2',135).attr('y1',62).attr('y2',62).attr('stroke',MED).attr('stroke-width',2.5);
    const t1 = lg.append('text').attr('x',147).attr('y',39).attr('font-family',serif).attr('font-size',24.5).attr('fill','#111');
    t1.append('tspan').text(legendLabels[0]);
    t1.append('tspan').attr('dy',-10).attr('font-size',16).text(legendLabels[1]);
    t1.append('tspan').attr('dy',10).text(legendLabels[2]);
    t1.append('tspan').attr('dy',-10).attr('font-size',16).text(legendLabels[3]);
    t1.append('tspan').attr('dy',10).text(legendLabels[4]);
    lg.append('text').attr('x',147).attr('y',70).attr('font-family',serif).attr('font-size',24.5).attr('fill','#111').text(legendLabels[5]);
    // y label
    const lp = ylabPos[r][c];
    const yl = svg.append('text')
      .attr('transform',`translate(${colLeft[c]-185+lp[0]},${lp[1]}) rotate(-90)`)
      .attr('text-anchor','middle').attr('font-family',labFont).attr('font-size',41).attr('fill','#000')
      .attr('textLength',lp[2]).attr('lengthAdjust','spacingAndGlyphs');
    ylabParts[r].forEach(([t,sub],i)=>{
      const ts = yl.append('tspan').text(t);
      if (sub) ts.attr('font-size',26).attr('dy',9);
      else if (i>0) ts.attr('dy',-9);
    });
  });
});
</script>
</body></html>
